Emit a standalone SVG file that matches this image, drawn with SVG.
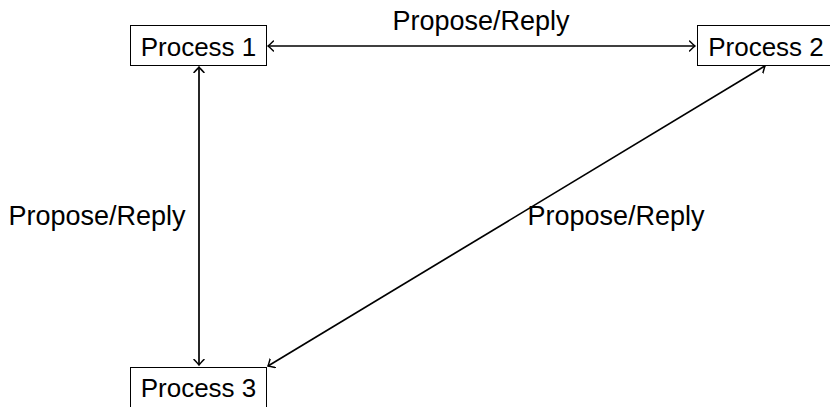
<svg xmlns="http://www.w3.org/2000/svg" width="830" height="407" viewBox="0 0 830 407">
  <style>
    .box { fill: #ffffff; stroke: #000000; stroke-width: 1; }
    .label { font-family: "Liberation Sans", "DejaVu Sans", sans-serif; font-size: 27px; fill: #000000; text-anchor: middle; }
    .name { font-size: 26px; }
    .edge { fill: none; stroke: #000000; stroke-width: 1.7; }
  </style>
  <defs>
    <marker id="tip" viewBox="-6 -6 8 12" markerWidth="8" markerHeight="12" refX="0" refY="0" orient="auto-start-reverse" markerUnits="userSpaceOnUse">
      <path d="M -5.5 -5 Q -1.5 -1.2 0 0 Q -1.5 1.2 -5.5 5" fill="none" stroke="#000000" stroke-width="1.5" stroke-linecap="round"/>
    </marker>
  </defs>
  <rect width="830" height="407" fill="#ffffff"/>

  <g id="connectors">
    <line class="edge" x1="268" y1="46" x2="695" y2="46" marker-start="url(#tip)" marker-end="url(#tip)"/>
    <line class="edge" x1="199" y1="67" x2="199" y2="365" marker-start="url(#tip)" marker-end="url(#tip)"/>
    <line class="edge" x1="268" y1="366" x2="765" y2="66" marker-start="url(#tip)" marker-end="url(#tip)"/>
    <text class="label" x="481" y="30">Propose/Reply</text>
    <text class="label" x="97" y="225">Propose/Reply</text>
    <text class="label" x="616" y="225">Propose/Reply</text>
  </g>

  <g id="process1">
    <rect class="box" x="130.5" y="25.5" width="136" height="40"/>
    <text class="label name" x="198.5" y="56">Process 1</text>
  </g>
  <g id="process2">
    <rect class="box" x="697.5" y="25.5" width="136" height="40"/>
    <text class="label name" x="766" y="56">Process 2</text>
  </g>
  <g id="process3">
    <rect class="box" x="130.5" y="367.5" width="136" height="40"/>
    <text class="label name" x="198.5" y="397">Process 3</text>
  </g>
</svg>
